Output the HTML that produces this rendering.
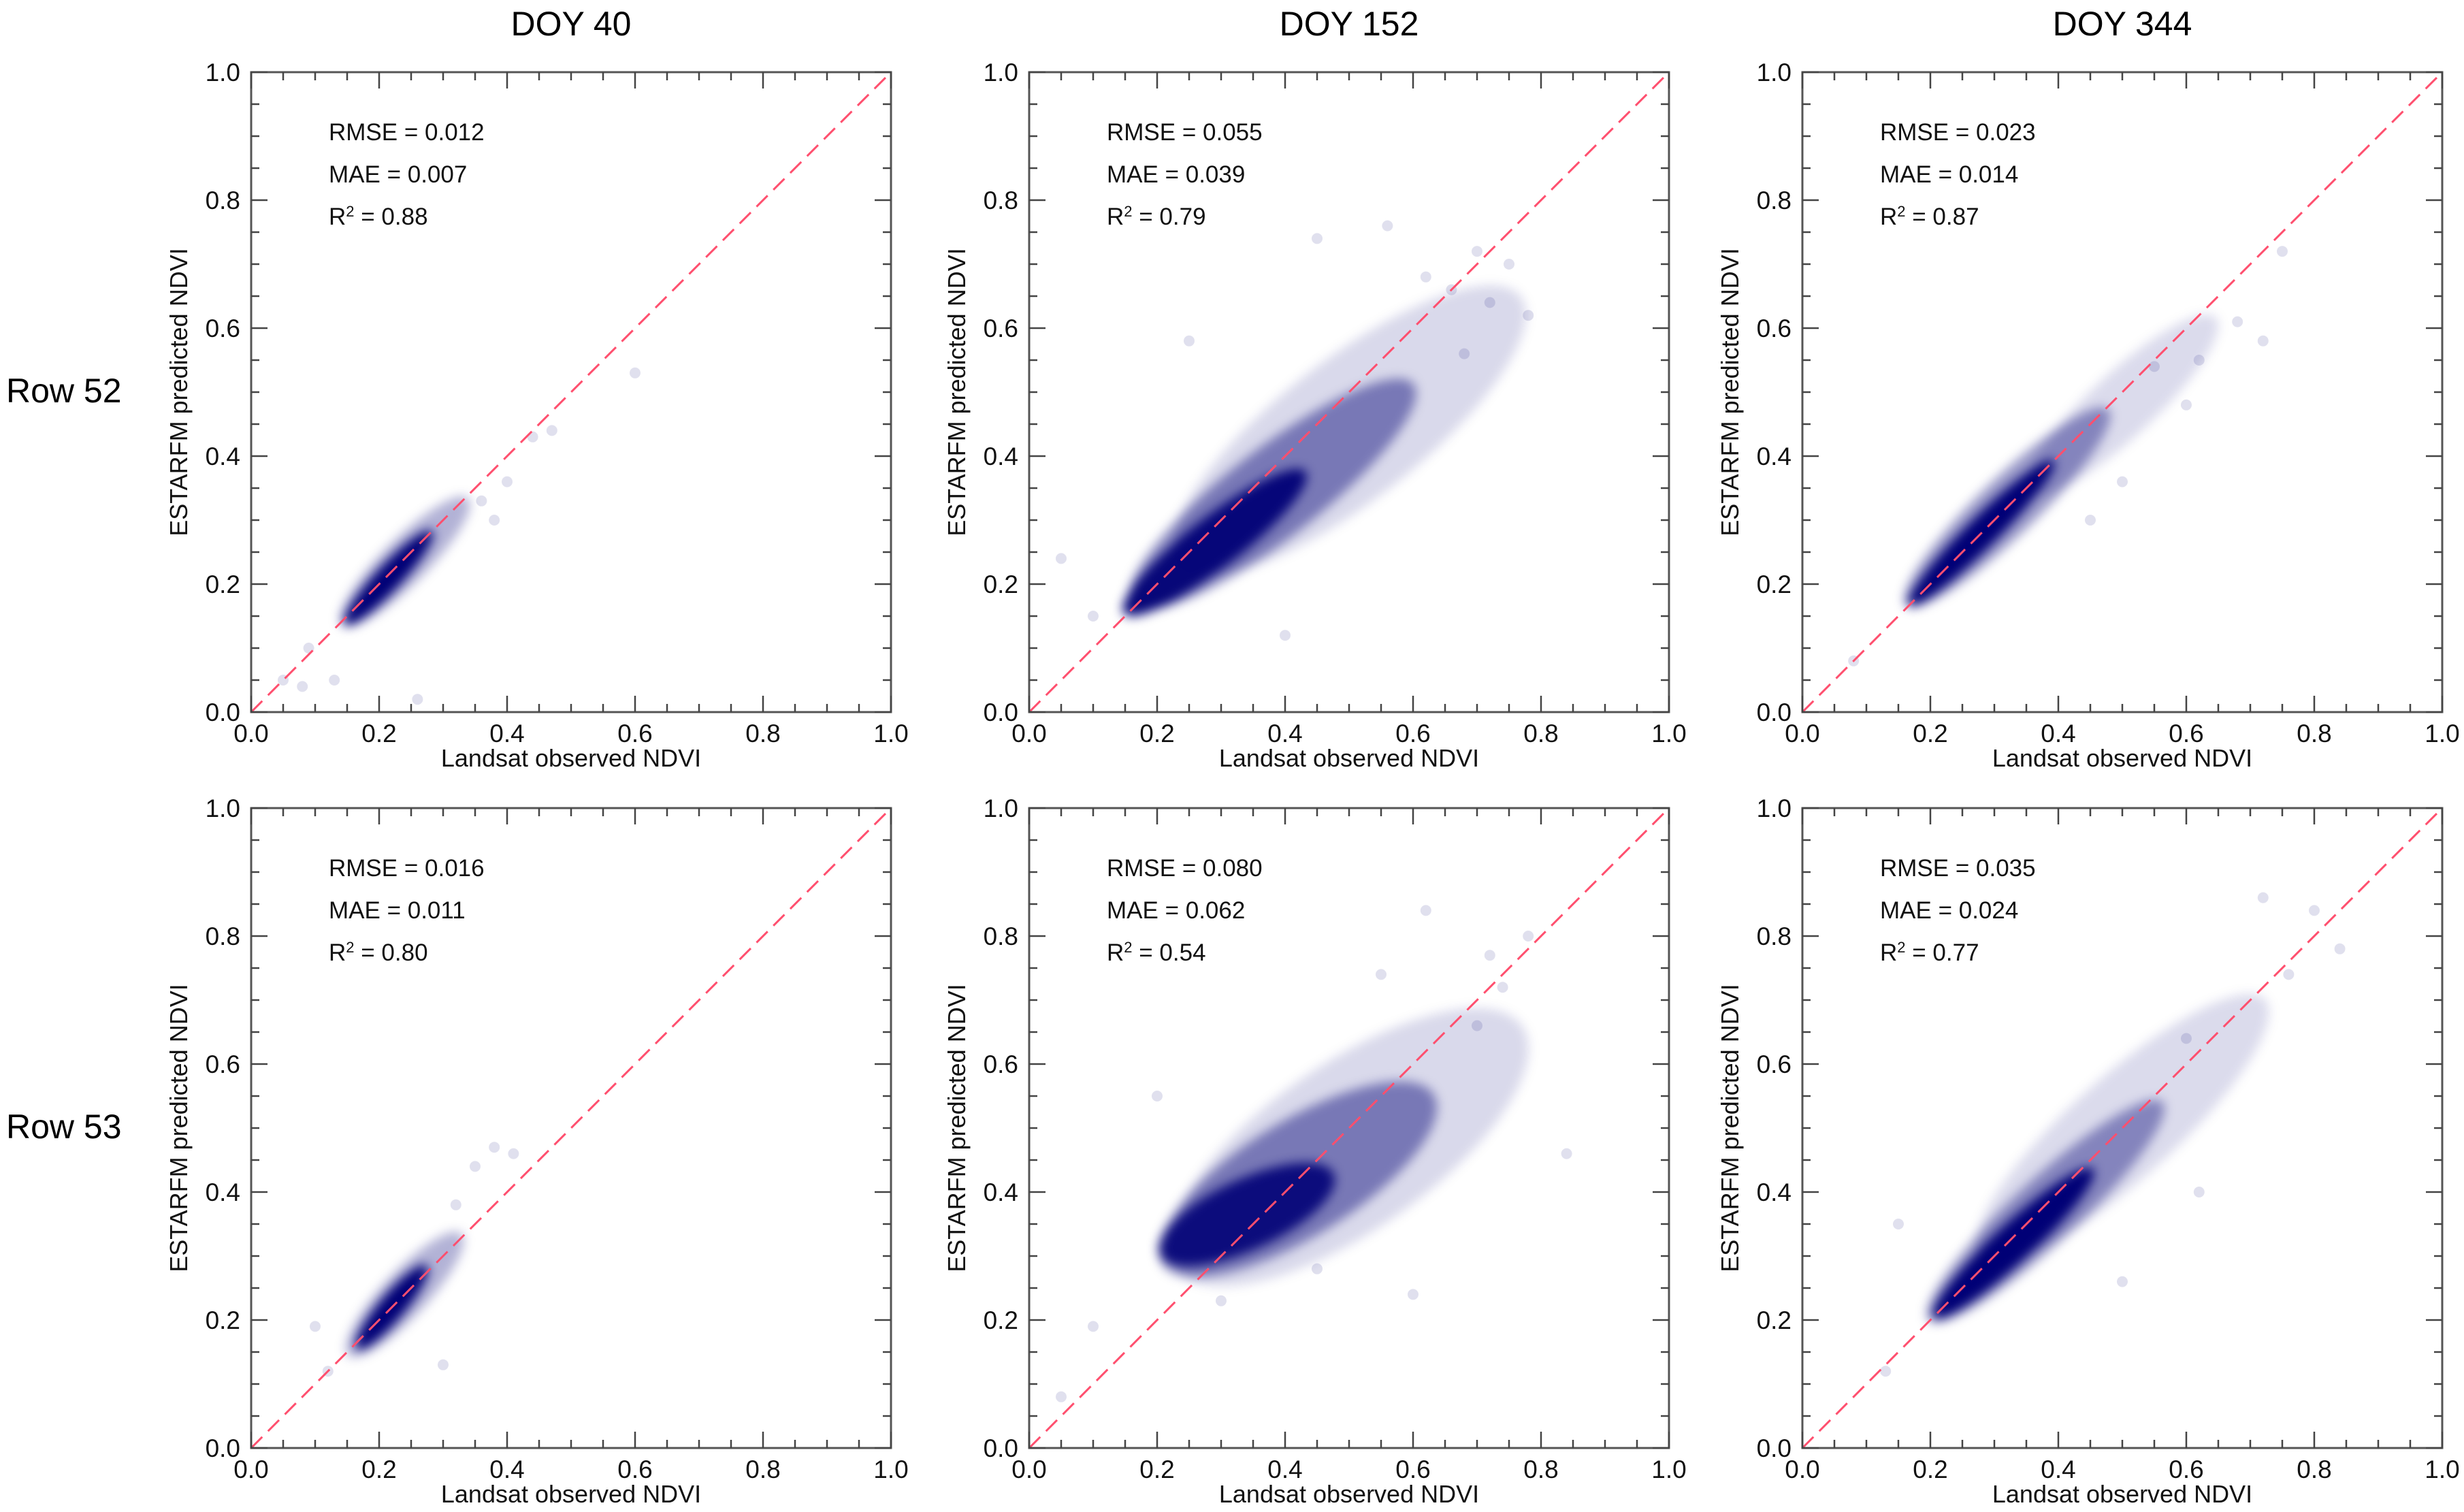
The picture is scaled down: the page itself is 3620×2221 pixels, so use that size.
<!DOCTYPE html>
<html><head><meta charset="utf-8">
<style>
html,body{margin:0;padding:0;background:#fff;}
svg{display:block;font-family:"Liberation Sans",Arial,sans-serif;}
</style></head>
<body>
<svg id="fig" width="3620" height="2221" viewBox="0 0 3620 2221" xmlns="http://www.w3.org/2000/svg">
<defs>
<filter id="blur" x="-50%" y="-50%" width="200%" height="200%"><feGaussianBlur stdDeviation="8"/></filter>
</defs>
</svg>
<script>
// ---- data ----
const colTitles = ["DOY 40", "DOY 152", "DOY 344"];
const rowTitles = ["Row 52", "Row 53"];
const tickValues = [0.0, 0.2, 0.4, 0.6, 0.8, 1.0];
const tickLabels = ["0.0", "0.2", "0.4", "0.6", "0.8", "1.0"];
const rmseValues = ["0.012", "0.055", "0.023", "0.016", "0.080", "0.035"];
const maeValues = ["0.007", "0.039", "0.014", "0.011", "0.062", "0.024"];
const r2Values = ["0.88", "0.79", "0.87", "0.80", "0.54", "0.77"];
// density clouds per panel: [cx, cy, semiMajor, semiMinor, angleDeg, opacity] in NDVI units
const cloudsP1 = [[0.24,0.235,0.14,0.035,45,0.3],[0.215,0.21,0.1,0.02,47,1.0]];
const cloudsP2 = [[0.5,0.44,0.34,0.11,38,0.15],[0.38,0.34,0.28,0.07,38,0.45],[0.29,0.265,0.18,0.04,38,0.95]];
const cloudsP3 = [[0.5,0.48,0.2,0.05,43,0.14],[0.32,0.32,0.22,0.045,44,0.4],[0.28,0.28,0.16,0.024,45,1.0]];
const cloudsP4 = [[0.24,0.24,0.13,0.035,47,0.3],[0.22,0.22,0.085,0.02,50,1.0]];
const cloudsP5 = [[0.5,0.47,0.33,0.13,35,0.15],[0.42,0.42,0.25,0.09,32,0.45],[0.34,0.365,0.15,0.055,25,0.9]];
const cloudsP6 = [[0.5,0.5,0.3,0.08,42,0.14],[0.38,0.37,0.25,0.05,43,0.4],[0.33,0.32,0.17,0.03,43,1.0]];
// sparse outlier points per panel: x values, y values
const outX1 = [0.6,0.47,0.44,0.4,0.38,0.36,0.05,0.13,0.26,0.08,0.09];
const outY1 = [0.53,0.44,0.43,0.36,0.30,0.33,0.05,0.05,0.02,0.04,0.10];
const outX2 = [0.45,0.56,0.70,0.75,0.78,0.05,0.10,0.40,0.25,0.62,0.68,0.72,0.66];
const outY2 = [0.74,0.76,0.72,0.70,0.62,0.24,0.15,0.12,0.58,0.68,0.56,0.64,0.66];
const outX3 = [0.75,0.68,0.72,0.62,0.55,0.60,0.08,0.45,0.50];
const outY3 = [0.72,0.61,0.58,0.55,0.54,0.48,0.08,0.30,0.36];
const outX4 = [0.41,0.38,0.35,0.10,0.12,0.30,0.32];
const outY4 = [0.46,0.47,0.44,0.19,0.12,0.13,0.38];
const outX5 = [0.78,0.72,0.62,0.55,0.20,0.10,0.05,0.30,0.60,0.84,0.45,0.74,0.70];
const outY5 = [0.80,0.77,0.84,0.74,0.55,0.19,0.08,0.23,0.24,0.46,0.28,0.72,0.66];
const outX6 = [0.72,0.80,0.84,0.76,0.60,0.13,0.15,0.50,0.62];
const outY6 = [0.86,0.84,0.78,0.74,0.64,0.12,0.35,0.26,0.40];

const clouds = [cloudsP1,cloudsP2,cloudsP3,cloudsP4,cloudsP5,cloudsP6];
const outXs = [outX1,outX2,outX3,outX4,outX5,outX6];
const outYs = [outY1,outY2,outY3,outY4,outY5,outY6];

// ---- layout ----
const NS = "http://www.w3.org/2000/svg";
const svg = document.getElementById("fig");
const colLeft = [369, 1512, 2648];
const rowTop = [106, 1187];
const SIZE = 940;
const NAVY = "rgb(0,0,118)";

function mk(tag, attrs, parent) {
  const e = document.createElementNS(NS, tag);
  for (const k in attrs) e.setAttribute(k, attrs[k]);
  (parent || svg).appendChild(e);
  return e;
}

colTitles.forEach((t, c) => {
  const e = mk("text", {x: colLeft[c] + SIZE/2, y: 52, "font-size": 50, "text-anchor": "middle"});
  
  
  e.textContent = t;
});
rowTitles.forEach((t, r) => {
  const e = mk("text", {x: 9, y: rowTop[r] + 485, "font-size": 50});
  
  
  e.textContent = t;
});

for (let r = 0; r < 2; r++) for (let c = 0; c < 3; c++) {
  const i = r*3 + c;
  const x0 = colLeft[c], y0 = rowTop[r];
  const sx = v => x0 + v*SIZE;
  const sy = v => y0 + SIZE - v*SIZE;
  const g = mk("g", {});
  
  

  const clip = mk("clipPath", {id: "clip"+i}, g);
  mk("rect", {x: x0, y: y0, width: SIZE, height: SIZE}, clip);
  const cg = mk("g", {"clip-path": "url(#clip"+i+")"}, g);

  const blurG = mk("g", {filter: "url(#blur)"}, cg);
  clouds[i].forEach(cl => {
    const e = mk("ellipse", {
      cx: sx(cl[0]), cy: sy(cl[1]), rx: cl[2]*SIZE, ry: cl[3]*SIZE,
      transform: "rotate(" + (-cl[4]) + " " + sx(cl[0]) + " " + sy(cl[1]) + ")",
      fill: NAVY, "fill-opacity": cl[5]
    }, blurG);
    
    
  });
  outXs[i].forEach((vx, k) => {
    const e = mk("circle", {cx: sx(vx), cy: sy(outYs[i][k]), r: 8, fill: NAVY, "fill-opacity": 0.12}, cg);
    
    
  });

  const ln = mk("line", {x1: sx(0), y1: sy(0), x2: sx(1), y2: sy(1), stroke: "#ff4f6e", "stroke-width": 3, "stroke-dasharray": "23 12"}, g);
  
  

  const fr = mk("rect", {x: x0, y: y0, width: SIZE, height: SIZE, fill: "none", stroke: "#555", "stroke-width": 3}, g);
  
  

  for (let t = 0; t <= 20; t++) {
    const v = t/20;
    const len = (t % 4 === 0) ? 24 : 12;
    const st = {stroke: "#444", "stroke-width": 2.5};
    mk("line", Object.assign({x1: sx(v), y1: y0+SIZE, x2: sx(v), y2: y0+SIZE-len}, st), g);
    mk("line", Object.assign({x1: sx(v), y1: y0, x2: sx(v), y2: y0+len}, st), g);
    mk("line", Object.assign({x1: x0, y1: sy(v), x2: x0+len, y2: sy(v)}, st), g);
    mk("line", Object.assign({x1: x0+SIZE, y1: sy(v), x2: x0+SIZE-len, y2: sy(v)}, st), g);
  }
  tickValues.forEach((v, k) => {
    const xl = mk("text", {x: sx(v), y: y0+SIZE+44, "font-size": 37, "text-anchor": "middle", fill: "#111"}, g);
    
    
    xl.textContent = tickLabels[k];
    const yl = mk("text", {x: x0-16, y: sy(v)+13, "font-size": 37, "text-anchor": "end", fill: "#111"}, g);
    
    
    yl.textContent = tickLabels[k];
  });

  const xt = mk("text", {x: x0+SIZE/2, y: y0+SIZE+80, "font-size": 36, "text-anchor": "middle", fill: "#111"}, g);
  
  
  xt.textContent = "Landsat observed NDVI";
  const yx = x0-106, yy = y0+SIZE/2;
  const yt = mk("text", {x: yx, y: yy+12, "font-size": 36, "text-anchor": "middle", fill: "#111", transform: "rotate(-90 "+yx+" "+yy+")"}, g);
  
  
  yt.textContent = "ESTARFM predicted NDVI";

  const lines = ["RMSE = " + rmseValues[i], "MAE = " + maeValues[i], null];
  lines.forEach((s, k) => {
    const e = mk("text", {x: x0+114, y: y0+100+k*62, "font-size": 35, fill: "#111"}, g);
    
    
    if (s) e.textContent = s;
    else {
      e.textContent = "R";
      const sp = mk("tspan", {"font-size": 22, dy: -12}, e); sp.textContent = "2";
      const sp2 = mk("tspan", {dy: 12}, e); sp2.textContent = " = " + r2Values[i];
    }
  });
}
</script>
</body></html>
